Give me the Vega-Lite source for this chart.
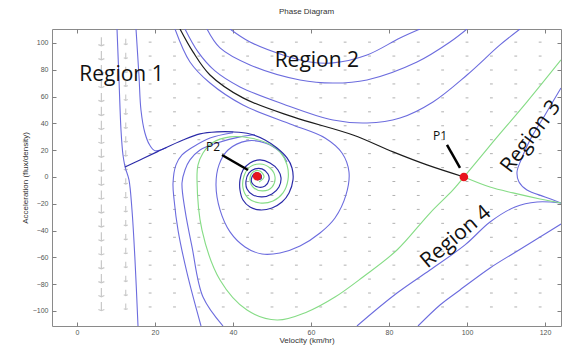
{
  "$schema": "https://vega.github.io/schema/vega-lite/v6.json",
  "width": 509,
  "height": 297,
  "autosize": {"type": "none"},
  "padding": {"left": 52, "top": 29, "right": 11, "bottom": 19},
  "background": "white",
  "title": {"text": "Phase Diagram", "fontSize": 8, "fontWeight": "normal", "color": "#333", "font": "Liberation Sans", "offset": 13},
  "config": {
    "view": {"stroke": "#8a8a8a", "strokeWidth": 1},
    "axis": {"grid": false, "domain": false, "tickColor": "#808080", "tickSize": -4, "labelFont": "Liberation Sans", "labelFontSize": 7, "labelColor": "#555", "titleFont": "Liberation Sans", "titleFontSize": 8, "titleFontWeight": "normal", "titleColor": "#333"}
  },
  "datasets": {
    "field": [
      {"y": 100.6, "xs": [6.25,12.5,18.75,25,31.25,37.5,43.75,50,56.25,62.5,68.75,75,81.25,87.5,93.75,100,106.25,112.5,118.75]},
      {"y": 90.2, "xs": [6.25,12.5,18.75,25,31.25,37.5,43.75,50,56.25,62.5,68.75,75,81.25,87.5,93.75,100,106.25,112.5,118.75]},
      {"y": 79.8, "xs": [6.25,12.5,18.75,25,31.25,37.5,43.75,50,56.25,62.5,68.75,75,81.25,87.5,93.75,100,106.25,112.5,118.75]},
      {"y": 69.4, "xs": [6.25,12.5,18.75,25,31.25,37.5,43.75,50,56.25,62.5,68.75,75,81.25,87.5,93.75,100,106.25,112.5,118.75]},
      {"y": 59, "xs": [6.25,12.5,18.75,25,31.25,37.5,43.75,50,56.25,62.5,68.75,75,81.25,87.5,93.75,100,106.25,112.5,118.75]},
      {"y": 48.6, "xs": [6.25,12.5,18.75,25,31.25,37.5,43.75,50,56.25,62.5,68.75,75,81.25,87.5,93.75,100,106.25,112.5,118.75]},
      {"y": 38.2, "xs": [6.25,12.5,18.75,25,31.25,37.5,43.75,50,56.25,62.5,68.75,75,81.25,87.5,93.75,100,106.25,112.5,118.75]},
      {"y": 27.8, "xs": [6.25,12.5,18.75,25,31.25,37.5,43.75,50,56.25,62.5,68.75,75,81.25,87.5,93.75,100,106.25,112.5,118.75]},
      {"y": 17.4, "xs": [6.25,12.5,18.75,25,31.25,37.5,43.75,50,56.25,62.5,68.75,75,81.25,87.5,93.75,100,106.25,112.5,118.75]},
      {"y": 7, "xs": [6.25,12.5,18.75,25,31.25,37.5,43.75,50,56.25,62.5,68.75,75,81.25,87.5,93.75,100,106.25,112.5,118.75]},
      {"y": -3.4, "xs": [6.25,12.5,18.75,25,31.25,37.5,43.75,50,56.25,62.5,68.75,75,81.25,87.5,93.75,100,106.25,112.5,118.75]},
      {"y": -13.8, "xs": [6.25,12.5,18.75,25,31.25,37.5,43.75,50,56.25,62.5,68.75,75,81.25,87.5,93.75,100,106.25,112.5,118.75]},
      {"y": -24.2, "xs": [6.25,12.5,18.75,25,31.25,37.5,43.75,50,56.25,62.5,68.75,75,81.25,87.5,93.75,100,106.25,112.5,118.75]},
      {"y": -34.6, "xs": [6.25,12.5,18.75,25,31.25,37.5,43.75,50,56.25,62.5,68.75,75,81.25,87.5,93.75,100,106.25,112.5,118.75]},
      {"y": -45, "xs": [6.25,12.5,18.75,25,31.25,37.5,43.75,50,56.25,62.5,68.75,75,81.25,87.5,93.75,100,106.25,112.5,118.75]},
      {"y": -55.4, "xs": [6.25,12.5,18.75,25,31.25,37.5,43.75,50,56.25,62.5,68.75,75,81.25,87.5,93.75,100,106.25,112.5,118.75]},
      {"y": -65.8, "xs": [6.25,12.5,18.75,25,31.25,37.5,43.75,50,56.25,62.5,68.75,75,81.25,87.5,93.75,100,106.25,112.5,118.75]},
      {"y": -76.2, "xs": [6.25,12.5,18.75,25,31.25,37.5,43.75,50,56.25,62.5,68.75,75,81.25,87.5,93.75,100,106.25,112.5,118.75]},
      {"y": -86.6, "xs": [6.25,12.5,18.75,25,31.25,37.5,43.75,50,56.25,62.5,68.75,75,81.25,87.5,93.75,100,106.25,112.5,118.75]},
      {"y": -97, "xs": [6.25,12.5,18.75,25,31.25,37.5,43.75,50,56.25,62.5,68.75,75,81.25,87.5,93.75,100,106.25,112.5,118.75]}
    ],
    "curves": [
      {"c": "A1", "k": "traj", "x": 10.26, "y": 110.4}, {"c": "A1", "k": "traj", "x": 10.77, "y": 72.4}, {"c": "A1", "k": "traj", "x": 11.28, "y": 35.1}, {"c": "A1", "k": "traj", "x": 11.79, "y": 16.4}, {"c": "A1", "k": "traj", "x": 12.31, "y": 7.5},
      {"c": "B", "k": "traj", "x": 15.64, "y": -111.2}, {"c": "B", "k": "traj", "x": 14.87, "y": -61.9}, {"c": "B", "k": "traj", "x": 14.10, "y": -24.6}, {"c": "B", "k": "traj", "x": 13.33, "y": -2.2}, {"c": "B", "k": "traj", "x": 12.56, "y": 5.2}, {"c": "B", "k": "traj", "x": 12.31, "y": 7.5},
      {"c": "A3", "k": "traj", "x": 15.13, "y": 110.4}, {"c": "A3", "k": "traj", "x": 15.9, "y": 75}, {"c": "A3", "k": "traj", "x": 16.4, "y": 50}, {"c": "A3", "k": "traj", "x": 17.4, "y": 33}, {"c": "A3", "k": "traj", "x": 18.6, "y": 24}, {"c": "A3", "k": "traj", "x": 20.0, "y": 19.6}, {"c": "A3", "k": "traj", "x": 23, "y": 22},
      {"c": "C", "k": "traj", "x": 31.8, "y": -111.2}, {"c": "C", "k": "traj", "x": 28.21, "y": -71.6}, {"c": "C", "k": "traj", "x": 25.90, "y": -39.6}, {"c": "C", "k": "traj", "x": 24.9, "y": -17.2}, {"c": "C", "k": "traj", "x": 24.62, "y": -4.5}, {"c": "C", "k": "traj", "x": 25.38, "y": 9.0}, {"c": "C", "k": "traj", "x": 26.92, "y": 16.4}, {"c": "C", "k": "traj", "x": 29.74, "y": 22.4}, {"c": "C", "k": "traj", "x": 34.10, "y": 29.1}, {"c": "C", "k": "traj", "x": 40.00, "y": 33.0},
      {"c": "D", "k": "traj", "x": 37.44, "y": -111.2}, {"c": "D", "k": "traj", "x": 32.31, "y": -89.6}, {"c": "D", "k": "traj", "x": 29.49, "y": -52.2}, {"c": "D", "k": "traj", "x": 27.69, "y": -24.6}, {"c": "D", "k": "traj", "x": 26.92, "y": -4.5}, {"c": "D", "k": "traj", "x": 27.69, "y": 5.2}, {"c": "D", "k": "traj", "x": 28.97, "y": 12.7}, {"c": "D", "k": "traj", "x": 31.54, "y": 20.1}, {"c": "D", "k": "traj", "x": 35.90, "y": 25.4}, {"c": "D", "k": "traj", "x": 41.79, "y": 29.9}, {"c": "D", "k": "traj", "x": 45.64, "y": 31.5},
      {"c": "E", "k": "traj", "x": 25.13, "y": 110.4}, {"c": "E", "k": "traj", "x": 28.97, "y": 85.8}, {"c": "E", "k": "traj", "x": 34.10, "y": 70.1}, {"c": "E", "k": "traj", "x": 42.56, "y": 53.7}, {"c": "E", "k": "traj", "x": 55.38, "y": 38.8}, {"c": "E", "k": "traj", "x": 63.59, "y": 29.1}, {"c": "E", "k": "traj", "x": 67.95, "y": 17.9}, {"c": "E", "k": "traj", "x": 69.74, "y": 3.7}, {"c": "E", "k": "traj", "x": 68.97, "y": -13.4}, {"c": "E", "k": "traj", "x": 66.15, "y": -30.6}, {"c": "E", "k": "traj", "x": 62.31, "y": -41.8}, {"c": "E", "k": "traj", "x": 57.18, "y": -51.5}, {"c": "E", "k": "traj", "x": 52.05, "y": -56.7}, {"c": "E", "k": "traj", "x": 47.44, "y": -57.5}, {"c": "E", "k": "traj", "x": 43.08, "y": -52.2}, {"c": "E", "k": "traj", "x": 39.23, "y": -41.0}, {"c": "E", "k": "traj", "x": 36.67, "y": -24.6}, {"c": "E", "k": "traj", "x": 35.64, "y": -6.0}, {"c": "E", "k": "traj", "x": 36.41, "y": 9.0}, {"c": "E", "k": "traj", "x": 38.72, "y": 20.1}, {"c": "E", "k": "traj", "x": 43.59, "y": 26.9}, {"c": "E", "k": "traj", "x": 48.21, "y": 25.4}, {"c": "E", "k": "traj", "x": 52.05, "y": 18.7}, {"c": "E", "k": "traj", "x": 53.85, "y": 11.2},
      {"c": "R2a", "k": "traj", "x": 39.23, "y": 110.4}, {"c": "R2a", "k": "traj", "x": 44.36, "y": 100.7}, {"c": "R2a", "k": "traj", "x": 52.82, "y": 91.0}, {"c": "R2a", "k": "traj", "x": 59.74, "y": 85.8}, {"c": "R2a", "k": "traj", "x": 65.64, "y": 85.1}, {"c": "R2a", "k": "traj", "x": 74.36, "y": 91.0}, {"c": "R2a", "k": "traj", "x": 82.82, "y": 103.7}, {"c": "R2a", "k": "traj", "x": 87.95, "y": 110.4},
      {"c": "R2b", "k": "traj", "x": 33.33, "y": 110.4}, {"c": "R2b", "k": "traj", "x": 36.67, "y": 96.3}, {"c": "R2b", "k": "traj", "x": 44.36, "y": 83.6}, {"c": "R2b", "k": "traj", "x": 57.18, "y": 72.4}, {"c": "R2b", "k": "traj", "x": 65.64, "y": 70.1}, {"c": "R2b", "k": "traj", "x": 74.36, "y": 72.4}, {"c": "R2b", "k": "traj", "x": 87.18, "y": 85.8}, {"c": "R2b", "k": "traj", "x": 95.64, "y": 100.7}, {"c": "R2b", "k": "traj", "x": 100.0, "y": 110.4},
      {"c": "R2c", "k": "traj", "x": 27.69, "y": 110.4}, {"c": "R2c", "k": "traj", "x": 31.03, "y": 93.3}, {"c": "R2c", "k": "traj", "x": 35.38, "y": 79.1}, {"c": "R2c", "k": "traj", "x": 41.79, "y": 67.2}, {"c": "R2c", "k": "traj", "x": 52.82, "y": 54.5}, {"c": "R2c", "k": "traj", "x": 65.64, "y": 42.5}, {"c": "R2c", "k": "traj", "x": 74.36, "y": 40.3}, {"c": "R2c", "k": "traj", "x": 82.82, "y": 44.0}, {"c": "R2c", "k": "traj", "x": 91.28, "y": 56.0}, {"c": "R2c", "k": "traj", "x": 100.0, "y": 76.1}, {"c": "R2c", "k": "traj", "x": 108.46, "y": 98.5}, {"c": "R2c", "k": "traj", "x": 113.59, "y": 110.4},
      {"c": "R3", "k": "traj", "x": 124.1, "y": 66.4}, {"c": "R3", "k": "traj", "x": 120.0, "y": 46.3}, {"c": "R3", "k": "traj", "x": 116.15, "y": 27.6}, {"c": "R3", "k": "traj", "x": 113.85, "y": 12.7}, {"c": "R3", "k": "traj", "x": 112.82, "y": 3.7}, {"c": "R3", "k": "traj", "x": 113.33, "y": -3.7}, {"c": "R3", "k": "traj", "x": 115.38, "y": -9.7}, {"c": "R3", "k": "traj", "x": 120.0, "y": -14.9}, {"c": "R3", "k": "traj", "x": 124.1, "y": -19.4},
      {"c": "R4a", "k": "traj", "x": 124.1, "y": -19.4}, {"c": "R4a", "k": "traj", "x": 117.95, "y": -18.7}, {"c": "R4a", "k": "traj", "x": 112.31, "y": -22.4}, {"c": "R4a", "k": "traj", "x": 105.90, "y": -33.6}, {"c": "R4a", "k": "traj", "x": 99.49, "y": -50.7}, {"c": "R4a", "k": "traj", "x": 90.51, "y": -69.4}, {"c": "R4a", "k": "traj", "x": 82.05, "y": -86.6}, {"c": "R4a", "k": "traj", "x": 71.79, "y": -111.2},
      {"c": "R4b", "k": "traj", "x": 124.1, "y": -35.1}, {"c": "R4b", "k": "traj", "x": 118.72, "y": -44.8}, {"c": "R4b", "k": "traj", "x": 113.33, "y": -54.5}, {"c": "R4b", "k": "traj", "x": 105.90, "y": -67.9}, {"c": "R4b", "k": "traj", "x": 98.21, "y": -84.3}, {"c": "R4b", "k": "traj", "x": 93.08, "y": -95.5}, {"c": "R4b", "k": "traj", "x": 87.44, "y": -111.2},
      {"c": "G1", "k": "sep", "x": 99.23, "y": 0}, {"c": "G1", "k": "sep", "x": 96.41, "y": -9.7}, {"c": "G1", "k": "sep", "x": 90.51, "y": -26.9}, {"c": "G1", "k": "sep", "x": 82.05, "y": -54.5}, {"c": "G1", "k": "sep", "x": 73.33, "y": -74.6}, {"c": "G1", "k": "sep", "x": 66.15, "y": -89.6}, {"c": "G1", "k": "sep", "x": 58.97, "y": -100.7}, {"c": "G1", "k": "sep", "x": 51.28, "y": -106.7}, {"c": "G1", "k": "sep", "x": 43.59, "y": -99.3}, {"c": "G1", "k": "sep", "x": 36.67, "y": -76.9}, {"c": "G1", "k": "sep", "x": 32.05, "y": -39.6}, {"c": "G1", "k": "sep", "x": 30.77, "y": -2.2}, {"c": "G1", "k": "sep", "x": 31.03, "y": 9.0}, {"c": "G1", "k": "sep", "x": 32.31, "y": 17.9}, {"c": "G1", "k": "sep", "x": 34.62, "y": 25.4}, {"c": "G1", "k": "sep", "x": 39.23, "y": 29.9}, {"c": "G1", "k": "sep", "x": 44.36, "y": 29.1}, {"c": "G1", "k": "sep", "x": 48.72, "y": 25.4}, {"c": "G1", "k": "sep", "x": 52.05, "y": 18.7}, {"c": "G1", "k": "sep", "x": 53.85, "y": 9.0}, {"c": "G1", "k": "sep", "x": 54.10, "y": -2.2}, {"c": "G1", "k": "sep", "x": 52.82, "y": -11.9}, {"c": "G1", "k": "sep", "x": 50.26, "y": -17.9}, {"c": "G1", "k": "sep", "x": 46.92, "y": -19.4}, {"c": "G1", "k": "sep", "x": 43.85, "y": -15.7}, {"c": "G1", "k": "sep", "x": 42.56, "y": -8.2}, {"c": "G1", "k": "sep", "x": 42.82, "y": 0.7}, {"c": "G1", "k": "sep", "x": 44.36, "y": 7.5}, {"c": "G1", "k": "sep", "x": 46.92, "y": 9.7}, {"c": "G1", "k": "sep", "x": 49.49, "y": 6.7}, {"c": "G1", "k": "sep", "x": 50.77, "y": 0}, {"c": "G1", "k": "sep", "x": 50.00, "y": -7.5}, {"c": "G1", "k": "sep", "x": 47.69, "y": -10.4}, {"c": "G1", "k": "sep", "x": 45.38, "y": -8.2}, {"c": "G1", "k": "sep", "x": 44.36, "y": -2.2}, {"c": "G1", "k": "sep", "x": 45.13, "y": 3.7}, {"c": "G1", "k": "sep", "x": 46.92, "y": 4.5}, {"c": "G1", "k": "sep", "x": 47.95, "y": 0}, {"c": "G1", "k": "sep", "x": 46.67, "y": -3.7},
      {"c": "G2", "k": "sep", "x": 99.23, "y": 0}, {"c": "G2", "k": "sep", "x": 106.67, "y": 26.1}, {"c": "G2", "k": "sep", "x": 115.38, "y": 56.0}, {"c": "G2", "k": "sep", "x": 124.1, "y": 87.3},
      {"c": "G3", "k": "sep", "x": 99.23, "y": 0}, {"c": "G3", "k": "sep", "x": 105.90, "y": -7.5}, {"c": "G3", "k": "sep", "x": 111.79, "y": -11.9}, {"c": "G3", "k": "sep", "x": 118.72, "y": -16.4}, {"c": "G3", "k": "sep", "x": 124.1, "y": -19.4},
      {"c": "A2", "k": "attract", "x": 12.31, "y": 7.5}, {"c": "A2", "k": "attract", "x": 16.15, "y": 12.7}, {"c": "A2", "k": "attract", "x": 20.51, "y": 18.7}, {"c": "A2", "k": "attract", "x": 27.18, "y": 27.6}, {"c": "A2", "k": "attract", "x": 31.54, "y": 32.1}, {"c": "A2", "k": "attract", "x": 35.90, "y": 33.6}, {"c": "A2", "k": "attract", "x": 40.00, "y": 33.6}, {"c": "A2", "k": "attract", "x": 44.36, "y": 32.1}, {"c": "A2", "k": "attract", "x": 48.21, "y": 27.6}, {"c": "A2", "k": "attract", "x": 51.28, "y": 21.6}, {"c": "A2", "k": "attract", "x": 53.85, "y": 14.2}, {"c": "A2", "k": "attract", "x": 55.13, "y": 6.7}, {"c": "A2", "k": "attract", "x": 55.38, "y": -2.2}, {"c": "A2", "k": "attract", "x": 54.36, "y": -11.9}, {"c": "A2", "k": "attract", "x": 52.56, "y": -18.7}, {"c": "A2", "k": "attract", "x": 50.00, "y": -23.1}, {"c": "A2", "k": "attract", "x": 46.92, "y": -24.6}, {"c": "A2", "k": "attract", "x": 44.36, "y": -22.4}, {"c": "A2", "k": "attract", "x": 42.56, "y": -17.2}, {"c": "A2", "k": "attract", "x": 41.79, "y": -9.7}, {"c": "A2", "k": "attract", "x": 41.79, "y": -2.2}, {"c": "A2", "k": "attract", "x": 42.56, "y": 5.2}, {"c": "A2", "k": "attract", "x": 44.36, "y": 10.4}, {"c": "A2", "k": "attract", "x": 46.92, "y": 12.7}, {"c": "A2", "k": "attract", "x": 49.49, "y": 10.4}, {"c": "A2", "k": "attract", "x": 51.54, "y": 5.2}, {"c": "A2", "k": "attract", "x": 52.31, "y": -0.7}, {"c": "A2", "k": "attract", "x": 51.79, "y": -7.5}, {"c": "A2", "k": "attract", "x": 50.00, "y": -12.7}, {"c": "A2", "k": "attract", "x": 47.44, "y": -14.9}, {"c": "A2", "k": "attract", "x": 45.13, "y": -13.4}, {"c": "A2", "k": "attract", "x": 43.59, "y": -9.0}, {"c": "A2", "k": "attract", "x": 43.33, "y": -3.0}, {"c": "A2", "k": "attract", "x": 44.10, "y": 3.0}, {"c": "A2", "k": "attract", "x": 45.64, "y": 6.0}, {"c": "A2", "k": "attract", "x": 47.44, "y": 6.0}, {"c": "A2", "k": "attract", "x": 48.97, "y": 2.2}, {"c": "A2", "k": "attract", "x": 49.23, "y": -2.2}, {"c": "A2", "k": "attract", "x": 48.21, "y": -6.7}, {"c": "A2", "k": "attract", "x": 46.41, "y": -7.5}, {"c": "A2", "k": "attract", "x": 44.87, "y": -4.5}, {"c": "A2", "k": "attract", "x": 44.87, "y": 0}, {"c": "A2", "k": "attract", "x": 45.90, "y": 3.0}, {"c": "A2", "k": "attract", "x": 47.18, "y": 1.5}, {"c": "A2", "k": "attract", "x": 47.18, "y": -1.5}, {"c": "A2", "k": "attract", "x": 46.15, "y": -2.2},
      {"c": "K", "k": "crit", "x": 26.41, "y": 110.4}, {"c": "K", "k": "crit", "x": 29.74, "y": 93.3}, {"c": "K", "k": "crit", "x": 34.10, "y": 76.1}, {"c": "K", "k": "crit", "x": 42.56, "y": 59.0}, {"c": "K", "k": "crit", "x": 55.38, "y": 44.8}, {"c": "K", "k": "crit", "x": 70.77, "y": 31.3}, {"c": "K", "k": "crit", "x": 81.03, "y": 18.7}, {"c": "K", "k": "crit", "x": 89.74, "y": 9.0}, {"c": "K", "k": "crit", "x": 99.23, "y": 0}
    ],
    "pointers": [
      {"p": "P1", "x": 94.87, "y": 23.9, "x2": 98.21, "y2": 6.7},
      {"p": "P2", "x": 37.18, "y": 16.4, "x2": 43.85, "y2": 5.2}
    ],
    "equilibria": [
      {"p": "P1", "x": 99.2, "y": 0},
      {"p": "P2", "x": 46.2, "y": 0.5}
    ],
    "labels": [
      {"t": "Region 1", "x": 11.4, "y": 76.1},
      {"t": "Region 2", "x": 61.5, "y": 86.6},
      {"t": "Region 3", "x": 116.4, "y": 30.0},
      {"t": "Region 4", "x": 97.2, "y": -44.8},
      {"t": "P1", "x": 93.1, "y": 30.5},
      {"t": "P2", "x": 34.9, "y": 22.4}
    ]
  },
  "layer": [
    {
      "data": {"name": "field"},
      "transform": [{"flatten": ["xs"], "as": ["x"]}, {"filter": "datum.x > 15"}],
      "mark": {"type": "point", "shape": "stroke", "size": 8, "color": "#b0b0b0", "strokeWidth": 1, "opacity": 1},
      "encoding": {
        "x": {"field": "x", "type": "quantitative", "scale": {"domain": [-6.41, 124.1], "nice": false, "zero": false}, "axis": {"orient": "bottom", "values": [0, 20, 40, 60, 80, 100, 120], "labelPadding": 6, "title": "Velocity (km/hr)", "titlePadding": 1}},
        "y": {"field": "y", "type": "quantitative", "scale": {"domain": [-111.2, 110.4], "nice": false, "zero": false}, "axis": {"orient": "left", "values": [-100, -80, -60, -40, -20, 0, 20, 40, 60, 80, 100], "labelPadding": 8, "title": "Acceleration (flux/density)", "titlePadding": 3}}
      }
    },
    {
      "data": {"name": "field"},
      "transform": [{"flatten": ["xs"], "as": ["x"]}, {"filter": "datum.x < 7"}],
      "mark": {"type": "point", "shape": "M0,-1L0,0.75M-0.6,0.5L0,0.75L0.6,0.5", "size": 100, "color": "#c8c8c8", "strokeWidth": 1.2, "opacity": 1},
      "encoding": {
        "x": {"field": "x", "type": "quantitative", "axis": null},
        "y": {"field": "y", "type": "quantitative", "axis": null}
      }
    },
    {
      "data": {"name": "field"},
      "transform": [{"flatten": ["xs"], "as": ["x"]}, {"filter": "datum.x > 7 && datum.x < 13"}],
      "mark": {"type": "point", "shape": "M0,-1L0,0.75M-0.6,0.5L0,0.75L0.6,0.5", "size": 45, "color": "#c8c8c8", "strokeWidth": 1.1, "opacity": 1},
      "encoding": {
        "x": {"field": "x", "type": "quantitative", "axis": null},
        "y": {"field": "y", "type": "quantitative", "axis": null}
      }
    },
    {
      "data": {"name": "curves"},
      "mark": {"type": "line", "clip": true, "interpolate": "catmull-rom"},
      "encoding": {
        "x": {"field": "x", "type": "quantitative", "axis": null},
        "y": {"field": "y", "type": "quantitative", "axis": null},
        "detail": {"field": "c", "type": "nominal"},
        "color": {"field": "k", "type": "nominal", "scale": {"domain": ["traj", "sep", "attract", "crit"], "range": ["#6c6cde", "#86dc86", "#2a2aa8", "#1c1c1c"]}, "legend": null},
        "strokeWidth": {"field": "k", "type": "nominal", "scale": {"domain": ["traj", "sep", "attract", "crit"], "range": [1.1, 1.2, 1.7, 1.6]}, "legend": null},
        "order": {"value": null}
      }
    },
    {
      "data": {"name": "pointers"},
      "mark": {"type": "rule", "color": "#000", "strokeWidth": 2.5},
      "encoding": {
        "x": {"field": "x", "type": "quantitative", "axis": null},
        "y": {"field": "y", "type": "quantitative", "axis": null},
        "x2": {"field": "x2"},
        "y2": {"field": "y2"}
      }
    },
    {
      "data": {"name": "equilibria"},
      "mark": {"type": "point", "filled": true, "color": "#e8141c", "size": 75, "opacity": 1},
      "encoding": {
        "x": {"field": "x", "type": "quantitative", "axis": {"orient": "top", "labels": false, "title": null, "values": [0, 20, 40, 60, 80, 100, 120]}},
        "y": {"field": "y", "type": "quantitative", "axis": {"orient": "right", "labels": false, "title": null, "values": [-100, -80, -60, -40, -20, 0, 20, 40, 60, 80, 100]}}
      }
    },
    {
      "data": {"name": "labels"},
      "transform": [{"filter": "datum.t == 'Region 1' || datum.t == 'Region 2'"}],
      "mark": {"type": "text", "font": "Open Sans", "fontSize": 21, "color": "#111", "align": "center", "baseline": "middle"},
      "encoding": {
        "x": {"field": "x", "type": "quantitative", "axis": null},
        "y": {"field": "y", "type": "quantitative", "axis": null},
        "text": {"field": "t"}
      }
    },
    {
      "data": {"name": "labels"},
      "transform": [{"filter": "datum.t == 'Region 3'"}],
      "mark": {"type": "text", "font": "Open Sans", "fontSize": 21, "color": "#111", "align": "center", "baseline": "middle", "angle": -53},
      "encoding": {
        "x": {"field": "x", "type": "quantitative", "axis": null},
        "y": {"field": "y", "type": "quantitative", "axis": null},
        "text": {"field": "t"}
      }
    },
    {
      "data": {"name": "labels"},
      "transform": [{"filter": "datum.t == 'Region 4'"}],
      "mark": {"type": "text", "font": "Open Sans", "fontSize": 21, "color": "#111", "align": "center", "baseline": "middle", "angle": -40},
      "encoding": {
        "x": {"field": "x", "type": "quantitative", "axis": null},
        "y": {"field": "y", "type": "quantitative", "axis": null},
        "text": {"field": "t"}
      }
    },
    {
      "data": {"name": "labels"},
      "transform": [{"filter": "datum.t == 'P1' || datum.t == 'P2'"}],
      "mark": {"type": "text", "font": "Open Sans", "fontSize": 12, "color": "#111", "align": "center", "baseline": "middle"},
      "encoding": {
        "x": {"field": "x", "type": "quantitative", "axis": null},
        "y": {"field": "y", "type": "quantitative", "axis": null},
        "text": {"field": "t"}
      }
    }
  ]
}
